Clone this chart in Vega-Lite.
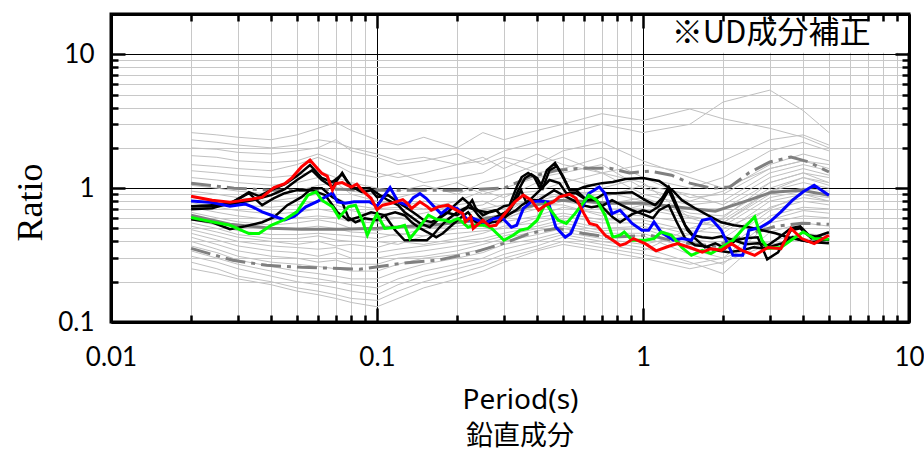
{
  "$schema": "https://vega.github.io/schema/vega-lite/v6.json",
  "width": 798,
  "height": 308,
  "autosize": "none",
  "padding": {"left": 111, "top": 14, "right": 15, "bottom": 134},
  "background": "white",
  "config": {
    "view": {"stroke": "black", "strokeWidth": 3},
    "axis": {
      "labelFont": "Lato", "labelFontSize": 26, "labelColor": "black",
      "domainColor": "black", "domainWidth": 3,
      "tickColor": "black", "tickWidth": 2.5, "gridWidth": 1,
      "labelFlush": false, "labelOverlap": false, "labelBound": false,
      "titleFontWeight": "normal", "titleColor": "black"
    }
  },
  "title": {"text": "鉛直成分", "orient": "bottom", "anchor": "middle", "font": "Noto Sans CJK JP", "fontSize": 27, "fontWeight": "normal", "color": "black", "offset": 10, "dx": 10},
  "data": {"values": [
    {"s":"a1","p":0.02,"r":2.6},{"s":"a1","p":0.025,"r":2.5},{"s":"a1","p":0.03,"r":2.4},{"s":"a1","p":0.04,"r":2.3},{"s":"a1","p":0.05,"r":2.5},{"s":"a1","p":0.06,"r":2.8},{"s":"a1","p":0.07,"r":3.1},{"s":"a1","p":0.08,"r":2.7},{"s":"a1","p":0.1,"r":2.3},{"s":"a1","p":0.12,"r":2.1},{"s":"a1","p":0.15,"r":2.4},{"s":"a1","p":0.2,"r":2.0},{"s":"a1","p":0.25,"r":2.6},{"s":"a1","p":0.3,"r":2.3},{"s":"a1","p":0.4,"r":2.7},{"s":"a1","p":0.5,"r":3.0},{"s":"a1","p":0.7,"r":3.6},{"s":"a1","p":1,"r":3.2},{"s":"a1","p":1.5,"r":3.9},{"s":"a1","p":2,"r":3.3},{"s":"a1","p":3,"r":2.8},{"s":"a1","p":4,"r":2.4},{"s":"a1","p":5,"r":2.0},
    {"s":"a2","p":0.02,"r":2.3},{"s":"a2","p":0.025,"r":2.2},{"s":"a2","p":0.03,"r":2.1},{"s":"a2","p":0.04,"r":2.0},{"s":"a2","p":0.05,"r":2.1},{"s":"a2","p":0.06,"r":2.3},{"s":"a2","p":0.07,"r":2.2},{"s":"a2","p":0.08,"r":2.0},{"s":"a2","p":0.1,"r":1.8},{"s":"a2","p":0.12,"r":1.6},{"s":"a2","p":0.15,"r":1.7},{"s":"a2","p":0.2,"r":1.5},{"s":"a2","p":0.25,"r":1.6},{"s":"a2","p":0.3,"r":1.9},{"s":"a2","p":0.4,"r":2.2},{"s":"a2","p":0.5,"r":2.5},{"s":"a2","p":0.7,"r":3.0},{"s":"a2","p":1,"r":2.6},{"s":"a2","p":1.5,"r":3.0},{"s":"a2","p":2,"r":4.4},{"s":"a2","p":3,"r":5.4},{"s":"a2","p":4,"r":3.8},{"s":"a2","p":5,"r":2.6},
    {"s":"a3","p":0.02,"r":2.0},{"s":"a3","p":0.025,"r":1.95},{"s":"a3","p":0.03,"r":1.85},{"s":"a3","p":0.04,"r":1.8},{"s":"a3","p":0.05,"r":1.9},{"s":"a3","p":0.06,"r":2.0},{"s":"a3","p":0.07,"r":2.3},{"s":"a3","p":0.08,"r":1.9},{"s":"a3","p":0.1,"r":1.7},{"s":"a3","p":0.12,"r":1.5},{"s":"a3","p":0.15,"r":1.6},{"s":"a3","p":0.2,"r":1.8},{"s":"a3","p":0.25,"r":1.5},{"s":"a3","p":0.3,"r":1.7},{"s":"a3","p":0.4,"r":1.5},{"s":"a3","p":0.5,"r":1.9},{"s":"a3","p":0.7,"r":2.2},{"s":"a3","p":1,"r":1.6},{"s":"a3","p":1.5,"r":1.2},{"s":"a3","p":2,"r":1.0},{"s":"a3","p":3,"r":1.4},{"s":"a3","p":4,"r":1.6},{"s":"a3","p":5,"r":1.5},
    {"s":"a4","p":0.02,"r":1.75},{"s":"a4","p":0.025,"r":1.7},{"s":"a4","p":0.03,"r":1.6},{"s":"a4","p":0.04,"r":1.55},{"s":"a4","p":0.05,"r":1.6},{"s":"a4","p":0.06,"r":1.8},{"s":"a4","p":0.07,"r":1.6},{"s":"a4","p":0.08,"r":1.45},{"s":"a4","p":0.1,"r":1.3},{"s":"a4","p":0.12,"r":1.2},{"s":"a4","p":0.15,"r":1.3},{"s":"a4","p":0.2,"r":1.5},{"s":"a4","p":0.25,"r":1.7},{"s":"a4","p":0.3,"r":1.4},{"s":"a4","p":0.4,"r":1.8},{"s":"a4","p":0.5,"r":1.5},{"s":"a4","p":0.7,"r":1.3},{"s":"a4","p":1,"r":1.5},{"s":"a4","p":1.5,"r":1.3},{"s":"a4","p":2,"r":1.6},{"s":"a4","p":3,"r":2.3},{"s":"a4","p":4,"r":2.5},{"s":"a4","p":5,"r":2.1},
    {"s":"a5","p":0.02,"r":1.5},{"s":"a5","p":0.025,"r":1.45},{"s":"a5","p":0.03,"r":1.4},{"s":"a5","p":0.04,"r":1.35},{"s":"a5","p":0.05,"r":1.5},{"s":"a5","p":0.06,"r":1.7},{"s":"a5","p":0.07,"r":1.5},{"s":"a5","p":0.08,"r":1.3},{"s":"a5","p":0.1,"r":1.2},{"s":"a5","p":0.12,"r":1.3},{"s":"a5","p":0.15,"r":1.1},{"s":"a5","p":0.2,"r":1.2},{"s":"a5","p":0.25,"r":1.3},{"s":"a5","p":0.3,"r":1.6},{"s":"a5","p":0.4,"r":1.3},{"s":"a5","p":0.5,"r":1.4},{"s":"a5","p":0.7,"r":1.7},{"s":"a5","p":1,"r":1.2},{"s":"a5","p":1.5,"r":1.0},{"s":"a5","p":2,"r":1.2},{"s":"a5","p":3,"r":1.9},{"s":"a5","p":4,"r":2.2},{"s":"a5","p":5,"r":1.9},
    {"s":"a6","p":0.02,"r":1.35},{"s":"a6","p":0.025,"r":1.3},{"s":"a6","p":0.03,"r":1.25},{"s":"a6","p":0.04,"r":1.2},{"s":"a6","p":0.05,"r":1.25},{"s":"a6","p":0.06,"r":1.35},{"s":"a6","p":0.07,"r":1.2},{"s":"a6","p":0.08,"r":1.1},{"s":"a6","p":0.1,"r":1.0},{"s":"a6","p":0.12,"r":0.95},{"s":"a6","p":0.15,"r":1.05},{"s":"a6","p":0.2,"r":0.9},{"s":"a6","p":0.25,"r":1.1},{"s":"a6","p":0.3,"r":1.2},{"s":"a6","p":0.4,"r":1.5},{"s":"a6","p":0.5,"r":1.7},{"s":"a6","p":0.7,"r":1.3},{"s":"a6","p":1,"r":1.1},{"s":"a6","p":1.5,"r":0.6},{"s":"a6","p":2,"r":0.5},{"s":"a6","p":3,"r":0.7},{"s":"a6","p":4,"r":0.9},{"s":"a6","p":5,"r":0.8},
    {"s":"a7","p":0.02,"r":1.2},{"s":"a7","p":0.025,"r":1.15},{"s":"a7","p":0.03,"r":1.1},{"s":"a7","p":0.04,"r":1.05},{"s":"a7","p":0.05,"r":1.1},{"s":"a7","p":0.06,"r":1.2},{"s":"a7","p":0.07,"r":1.0},{"s":"a7","p":0.08,"r":0.95},{"s":"a7","p":0.1,"r":0.9},{"s":"a7","p":0.12,"r":0.85},{"s":"a7","p":0.15,"r":0.95},{"s":"a7","p":0.2,"r":1.1},{"s":"a7","p":0.25,"r":0.9},{"s":"a7","p":0.3,"r":1.0},{"s":"a7","p":0.4,"r":1.2},{"s":"a7","p":0.5,"r":1.3},{"s":"a7","p":0.7,"r":1.5},{"s":"a7","p":1,"r":1.0},{"s":"a7","p":1.5,"r":0.8},{"s":"a7","p":2,"r":0.95},{"s":"a7","p":3,"r":1.5},{"s":"a7","p":4,"r":1.8},{"s":"a7","p":5,"r":1.6},
    {"s":"a8","p":0.02,"r":1.05},{"s":"a8","p":0.025,"r":1.0},{"s":"a8","p":0.03,"r":0.95},{"s":"a8","p":0.04,"r":0.9},{"s":"a8","p":0.05,"r":0.95},{"s":"a8","p":0.06,"r":1.05},{"s":"a8","p":0.07,"r":1.1},{"s":"a8","p":0.08,"r":0.9},{"s":"a8","p":0.1,"r":0.8},{"s":"a8","p":0.12,"r":0.75},{"s":"a8","p":0.15,"r":0.7},{"s":"a8","p":0.2,"r":0.8},{"s":"a8","p":0.25,"r":0.95},{"s":"a8","p":0.3,"r":0.85},{"s":"a8","p":0.4,"r":1.1},{"s":"a8","p":0.5,"r":1.2},{"s":"a8","p":0.7,"r":1.0},{"s":"a8","p":1,"r":1.2},{"s":"a8","p":1.5,"r":0.85},{"s":"a8","p":2,"r":0.9},{"s":"a8","p":3,"r":1.4},{"s":"a8","p":4,"r":1.6},{"s":"a8","p":5,"r":1.4},
    {"s":"a9","p":0.02,"r":0.95},{"s":"a9","p":0.025,"r":0.9},{"s":"a9","p":0.03,"r":0.85},{"s":"a9","p":0.04,"r":0.8},{"s":"a9","p":0.05,"r":0.85},{"s":"a9","p":0.06,"r":0.9},{"s":"a9","p":0.07,"r":0.85},{"s":"a9","p":0.08,"r":0.75},{"s":"a9","p":0.1,"r":0.7},{"s":"a9","p":0.12,"r":0.72},{"s":"a9","p":0.15,"r":0.8},{"s":"a9","p":0.2,"r":0.7},{"s":"a9","p":0.25,"r":0.75},{"s":"a9","p":0.3,"r":0.9},{"s":"a9","p":0.4,"r":0.95},{"s":"a9","p":0.5,"r":1.1},{"s":"a9","p":0.7,"r":1.3},{"s":"a9","p":1,"r":0.9},{"s":"a9","p":1.5,"r":0.75},{"s":"a9","p":2,"r":0.8},{"s":"a9","p":3,"r":1.3},{"s":"a9","p":4,"r":1.5},{"s":"a9","p":5,"r":1.35},
    {"s":"a10","p":0.02,"r":0.85},{"s":"a10","p":0.025,"r":0.8},{"s":"a10","p":0.03,"r":0.75},{"s":"a10","p":0.04,"r":0.72},{"s":"a10","p":0.05,"r":0.75},{"s":"a10","p":0.06,"r":0.8},{"s":"a10","p":0.07,"r":0.75},{"s":"a10","p":0.08,"r":0.68},{"s":"a10","p":0.1,"r":0.62},{"s":"a10","p":0.12,"r":0.6},{"s":"a10","p":0.15,"r":0.65},{"s":"a10","p":0.2,"r":0.75},{"s":"a10","p":0.25,"r":0.8},{"s":"a10","p":0.3,"r":0.7},{"s":"a10","p":0.4,"r":0.85},{"s":"a10","p":0.5,"r":1.0},{"s":"a10","p":0.7,"r":0.85},{"s":"a10","p":1,"r":1.05},{"s":"a10","p":1.5,"r":0.9},{"s":"a10","p":2,"r":0.75},{"s":"a10","p":3,"r":1.2},{"s":"a10","p":4,"r":1.4},{"s":"a10","p":5,"r":1.25},
    {"s":"a11","p":0.02,"r":0.78},{"s":"a11","p":0.025,"r":0.72},{"s":"a11","p":0.03,"r":0.68},{"s":"a11","p":0.04,"r":0.64},{"s":"a11","p":0.05,"r":0.66},{"s":"a11","p":0.06,"r":0.7},{"s":"a11","p":0.07,"r":0.66},{"s":"a11","p":0.08,"r":0.6},{"s":"a11","p":0.1,"r":0.56},{"s":"a11","p":0.12,"r":0.6},{"s":"a11","p":0.15,"r":0.55},{"s":"a11","p":0.2,"r":0.62},{"s":"a11","p":0.25,"r":0.7},{"s":"a11","p":0.3,"r":0.75},{"s":"a11","p":0.4,"r":0.8},{"s":"a11","p":0.5,"r":0.9},{"s":"a11","p":0.7,"r":0.95},{"s":"a11","p":1,"r":0.8},{"s":"a11","p":1.5,"r":0.7},{"s":"a11","p":2,"r":0.7},{"s":"a11","p":3,"r":1.1},{"s":"a11","p":4,"r":1.3},{"s":"a11","p":5,"r":1.2},
    {"s":"a12","p":0.02,"r":0.72},{"s":"a12","p":0.025,"r":0.66},{"s":"a12","p":0.03,"r":0.62},{"s":"a12","p":0.04,"r":0.58},{"s":"a12","p":0.05,"r":0.6},{"s":"a12","p":0.06,"r":0.62},{"s":"a12","p":0.07,"r":0.6},{"s":"a12","p":0.08,"r":0.56},{"s":"a12","p":0.1,"r":0.55},{"s":"a12","p":0.12,"r":0.5},{"s":"a12","p":0.15,"r":0.56},{"s":"a12","p":0.2,"r":0.6},{"s":"a12","p":0.25,"r":0.58},{"s":"a12","p":0.3,"r":0.65},{"s":"a12","p":0.4,"r":0.9},{"s":"a12","p":0.5,"r":0.85},{"s":"a12","p":0.7,"r":0.75},{"s":"a12","p":1,"r":0.85},{"s":"a12","p":1.5,"r":0.65},{"s":"a12","p":2,"r":0.62},{"s":"a12","p":3,"r":1.0},{"s":"a12","p":4,"r":1.2},{"s":"a12","p":5,"r":1.1},
    {"s":"a13","p":0.02,"r":0.66},{"s":"a13","p":0.025,"r":0.6},{"s":"a13","p":0.03,"r":0.56},{"s":"a13","p":0.04,"r":0.53},{"s":"a13","p":0.05,"r":0.55},{"s":"a13","p":0.06,"r":0.58},{"s":"a13","p":0.07,"r":0.55},{"s":"a13","p":0.08,"r":0.5},{"s":"a13","p":0.1,"r":0.48},{"s":"a13","p":0.12,"r":0.52},{"s":"a13","p":0.15,"r":0.5},{"s":"a13","p":0.2,"r":0.55},{"s":"a13","p":0.25,"r":0.62},{"s":"a13","p":0.3,"r":0.6},{"s":"a13","p":0.4,"r":0.7},{"s":"a13","p":0.5,"r":0.8},{"s":"a13","p":0.7,"r":0.7},{"s":"a13","p":1,"r":0.7},{"s":"a13","p":1.5,"r":0.6},{"s":"a13","p":2,"r":0.58},{"s":"a13","p":3,"r":0.95},{"s":"a13","p":4,"r":1.1},{"s":"a13","p":5,"r":1.0},
    {"s":"a14","p":0.02,"r":0.62},{"s":"a14","p":0.025,"r":0.56},{"s":"a14","p":0.03,"r":0.52},{"s":"a14","p":0.04,"r":0.49},{"s":"a14","p":0.05,"r":0.5},{"s":"a14","p":0.06,"r":0.52},{"s":"a14","p":0.07,"r":0.5},{"s":"a14","p":0.08,"r":0.47},{"s":"a14","p":0.1,"r":0.46},{"s":"a14","p":0.12,"r":0.44},{"s":"a14","p":0.15,"r":0.5},{"s":"a14","p":0.2,"r":0.52},{"s":"a14","p":0.25,"r":0.55},{"s":"a14","p":0.3,"r":0.58},{"s":"a14","p":0.4,"r":0.75},{"s":"a14","p":0.5,"r":0.75},{"s":"a14","p":0.7,"r":0.62},{"s":"a14","p":1,"r":0.75},{"s":"a14","p":1.5,"r":0.62},{"s":"a14","p":2,"r":0.55},{"s":"a14","p":3,"r":0.9},{"s":"a14","p":4,"r":1.0},{"s":"a14","p":5,"r":0.95},
    {"s":"a15","p":0.02,"r":0.58},{"s":"a15","p":0.025,"r":0.53},{"s":"a15","p":0.03,"r":0.48},{"s":"a15","p":0.04,"r":0.45},{"s":"a15","p":0.05,"r":0.45},{"s":"a15","p":0.06,"r":0.46},{"s":"a15","p":0.07,"r":0.45},{"s":"a15","p":0.08,"r":0.44},{"s":"a15","p":0.1,"r":0.42},{"s":"a15","p":0.12,"r":0.46},{"s":"a15","p":0.15,"r":0.44},{"s":"a15","p":0.2,"r":0.5},{"s":"a15","p":0.25,"r":0.5},{"s":"a15","p":0.3,"r":0.56},{"s":"a15","p":0.4,"r":0.62},{"s":"a15","p":0.5,"r":0.72},{"s":"a15","p":0.7,"r":0.65},{"s":"a15","p":1,"r":0.62},{"s":"a15","p":1.5,"r":0.55},{"s":"a15","p":2,"r":0.52},{"s":"a15","p":3,"r":0.85},{"s":"a15","p":4,"r":0.95},{"s":"a15","p":5,"r":0.9},
    {"s":"a16","p":0.02,"r":0.55},{"s":"a16","p":0.025,"r":0.5},{"s":"a16","p":0.03,"r":0.45},{"s":"a16","p":0.04,"r":0.42},{"s":"a16","p":0.05,"r":0.42},{"s":"a16","p":0.06,"r":0.44},{"s":"a16","p":0.07,"r":0.41},{"s":"a16","p":0.08,"r":0.4},{"s":"a16","p":0.1,"r":0.4},{"s":"a16","p":0.12,"r":0.38},{"s":"a16","p":0.15,"r":0.44},{"s":"a16","p":0.2,"r":0.46},{"s":"a16","p":0.25,"r":0.48},{"s":"a16","p":0.3,"r":0.5},{"s":"a16","p":0.4,"r":0.6},{"s":"a16","p":0.5,"r":0.65},{"s":"a16","p":0.7,"r":0.58},{"s":"a16","p":1,"r":0.58},{"s":"a16","p":1.5,"r":0.48},{"s":"a16","p":2,"r":0.46},{"s":"a16","p":3,"r":0.8},{"s":"a16","p":4,"r":0.9},{"s":"a16","p":5,"r":0.85},
    {"s":"a17","p":0.02,"r":0.52},{"s":"a17","p":0.025,"r":0.47},{"s":"a17","p":0.03,"r":0.43},{"s":"a17","p":0.04,"r":0.4},{"s":"a17","p":0.05,"r":0.38},{"s":"a17","p":0.06,"r":0.4},{"s":"a17","p":0.07,"r":0.37},{"s":"a17","p":0.08,"r":0.38},{"s":"a17","p":0.1,"r":0.36},{"s":"a17","p":0.12,"r":0.4},{"s":"a17","p":0.15,"r":0.38},{"s":"a17","p":0.2,"r":0.42},{"s":"a17","p":0.25,"r":0.46},{"s":"a17","p":0.3,"r":0.52},{"s":"a17","p":0.4,"r":0.55},{"s":"a17","p":0.5,"r":0.62},{"s":"a17","p":0.7,"r":0.55},{"s":"a17","p":1,"r":0.55},{"s":"a17","p":1.5,"r":0.45},{"s":"a17","p":2,"r":0.42},{"s":"a17","p":3,"r":0.72},{"s":"a17","p":4,"r":0.85},{"s":"a17","p":5,"r":0.8},
    {"s":"a18","p":0.02,"r":0.49},{"s":"a18","p":0.025,"r":0.44},{"s":"a18","p":0.03,"r":0.4},{"s":"a18","p":0.04,"r":0.37},{"s":"a18","p":0.05,"r":0.36},{"s":"a18","p":0.06,"r":0.35},{"s":"a18","p":0.07,"r":0.36},{"s":"a18","p":0.08,"r":0.33},{"s":"a18","p":0.1,"r":0.33},{"s":"a18","p":0.12,"r":0.35},{"s":"a18","p":0.15,"r":0.37},{"s":"a18","p":0.2,"r":0.4},{"s":"a18","p":0.25,"r":0.42},{"s":"a18","p":0.3,"r":0.46},{"s":"a18","p":0.4,"r":0.52},{"s":"a18","p":0.5,"r":0.58},{"s":"a18","p":0.7,"r":0.5},{"s":"a18","p":1,"r":0.52},{"s":"a18","p":1.5,"r":0.42},{"s":"a18","p":2,"r":0.38},{"s":"a18","p":3,"r":0.68},{"s":"a18","p":4,"r":0.8},{"s":"a18","p":5,"r":0.75},
    {"s":"a19","p":0.02,"r":0.46},{"s":"a19","p":0.025,"r":0.41},{"s":"a19","p":0.03,"r":0.37},{"s":"a19","p":0.04,"r":0.34},{"s":"a19","p":0.05,"r":0.33},{"s":"a19","p":0.06,"r":0.31},{"s":"a19","p":0.07,"r":0.33},{"s":"a19","p":0.08,"r":0.3},{"s":"a19","p":0.1,"r":0.3},{"s":"a19","p":0.12,"r":0.32},{"s":"a19","p":0.15,"r":0.34},{"s":"a19","p":0.2,"r":0.37},{"s":"a19","p":0.25,"r":0.4},{"s":"a19","p":0.3,"r":0.44},{"s":"a19","p":0.4,"r":0.5},{"s":"a19","p":0.5,"r":0.55},{"s":"a19","p":0.7,"r":0.48},{"s":"a19","p":1,"r":0.5},{"s":"a19","p":1.5,"r":0.38},{"s":"a19","p":2,"r":0.34},{"s":"a19","p":3,"r":0.62},{"s":"a19","p":4,"r":0.72},{"s":"a19","p":5,"r":0.7},
    {"s":"a20","p":0.02,"r":0.43},{"s":"a20","p":0.025,"r":0.38},{"s":"a20","p":0.03,"r":0.34},{"s":"a20","p":0.04,"r":0.31},{"s":"a20","p":0.05,"r":0.3},{"s":"a20","p":0.06,"r":0.28},{"s":"a20","p":0.07,"r":0.29},{"s":"a20","p":0.08,"r":0.27},{"s":"a20","p":0.1,"r":0.27},{"s":"a20","p":0.12,"r":0.3},{"s":"a20","p":0.15,"r":0.31},{"s":"a20","p":0.2,"r":0.34},{"s":"a20","p":0.25,"r":0.38},{"s":"a20","p":0.3,"r":0.42},{"s":"a20","p":0.4,"r":0.48},{"s":"a20","p":0.5,"r":0.52},{"s":"a20","p":0.7,"r":0.46},{"s":"a20","p":1,"r":0.46},{"s":"a20","p":1.5,"r":0.35},{"s":"a20","p":2,"r":0.3},{"s":"a20","p":3,"r":0.58},{"s":"a20","p":4,"r":0.68},{"s":"a20","p":5,"r":0.65},
    {"s":"a21","p":0.02,"r":0.4},{"s":"a21","p":0.025,"r":0.35},{"s":"a21","p":0.03,"r":0.31},{"s":"a21","p":0.04,"r":0.28},{"s":"a21","p":0.05,"r":0.27},{"s":"a21","p":0.06,"r":0.26},{"s":"a21","p":0.07,"r":0.25},{"s":"a21","p":0.08,"r":0.24},{"s":"a21","p":0.1,"r":0.24},{"s":"a21","p":0.12,"r":0.27},{"s":"a21","p":0.15,"r":0.3},{"s":"a21","p":0.2,"r":0.32},{"s":"a21","p":0.25,"r":0.35},{"s":"a21","p":0.3,"r":0.4},{"s":"a21","p":0.4,"r":0.45},{"s":"a21","p":0.5,"r":0.5},{"s":"a21","p":0.7,"r":0.44},{"s":"a21","p":1,"r":0.44},{"s":"a21","p":1.5,"r":0.32},{"s":"a21","p":2,"r":0.27},{"s":"a21","p":3,"r":0.55},{"s":"a21","p":4,"r":0.62},{"s":"a21","p":5,"r":0.6},
    {"s":"a22","p":0.02,"r":0.37},{"s":"a22","p":0.025,"r":0.33},{"s":"a22","p":0.03,"r":0.29},{"s":"a22","p":0.04,"r":0.26},{"s":"a22","p":0.05,"r":0.24},{"s":"a22","p":0.06,"r":0.23},{"s":"a22","p":0.07,"r":0.22},{"s":"a22","p":0.08,"r":0.21},{"s":"a22","p":0.1,"r":0.21},{"s":"a22","p":0.12,"r":0.24},{"s":"a22","p":0.15,"r":0.27},{"s":"a22","p":0.2,"r":0.3},{"s":"a22","p":0.25,"r":0.33},{"s":"a22","p":0.3,"r":0.38},{"s":"a22","p":0.4,"r":0.42},{"s":"a22","p":0.5,"r":0.47},{"s":"a22","p":0.7,"r":0.42},{"s":"a22","p":1,"r":0.38},{"s":"a22","p":1.5,"r":0.45},{"s":"a22","p":2,"r":0.55},{"s":"a22","p":3,"r":0.95},{"s":"a22","p":4,"r":1.2},{"s":"a22","p":5,"r":1.05},
    {"s":"a23","p":0.02,"r":0.34},{"s":"a23","p":0.025,"r":0.3},{"s":"a23","p":0.03,"r":0.27},{"s":"a23","p":0.04,"r":0.24},{"s":"a23","p":0.05,"r":0.22},{"s":"a23","p":0.06,"r":0.21},{"s":"a23","p":0.07,"r":0.2},{"s":"a23","p":0.08,"r":0.19},{"s":"a23","p":0.1,"r":0.18},{"s":"a23","p":0.12,"r":0.21},{"s":"a23","p":0.15,"r":0.24},{"s":"a23","p":0.2,"r":0.27},{"s":"a23","p":0.25,"r":0.3},{"s":"a23","p":0.3,"r":0.35},{"s":"a23","p":0.4,"r":0.4},{"s":"a23","p":0.5,"r":0.45},{"s":"a23","p":0.7,"r":0.4},{"s":"a23","p":1,"r":0.36},{"s":"a23","p":1.5,"r":0.28},{"s":"a23","p":2,"r":0.23},{"s":"a23","p":3,"r":0.47},{"s":"a23","p":4,"r":0.55},{"s":"a23","p":5,"r":0.52},
    {"s":"a24","p":0.02,"r":0.31},{"s":"a24","p":0.025,"r":0.28},{"s":"a24","p":0.03,"r":0.25},{"s":"a24","p":0.04,"r":0.22},{"s":"a24","p":0.05,"r":0.2},{"s":"a24","p":0.06,"r":0.19},{"s":"a24","p":0.07,"r":0.18},{"s":"a24","p":0.08,"r":0.17},{"s":"a24","p":0.1,"r":0.16},{"s":"a24","p":0.12,"r":0.19},{"s":"a24","p":0.15,"r":0.22},{"s":"a24","p":0.2,"r":0.25},{"s":"a24","p":0.25,"r":0.28},{"s":"a24","p":0.3,"r":0.32},{"s":"a24","p":0.4,"r":0.37},{"s":"a24","p":0.5,"r":0.43},{"s":"a24","p":0.7,"r":0.38},{"s":"a24","p":1,"r":0.34},{"s":"a24","p":1.5,"r":0.5},{"s":"a24","p":2,"r":0.6},{"s":"a24","p":3,"r":1.1},{"s":"a24","p":4,"r":1.3},{"s":"a24","p":5,"r":1.1},
    {"s":"a25","p":0.02,"r":0.28},{"s":"a25","p":0.025,"r":0.25},{"s":"a25","p":0.03,"r":0.22},{"s":"a25","p":0.04,"r":0.2},{"s":"a25","p":0.05,"r":0.18},{"s":"a25","p":0.06,"r":0.17},{"s":"a25","p":0.07,"r":0.16},{"s":"a25","p":0.08,"r":0.15},{"s":"a25","p":0.1,"r":0.145},{"s":"a25","p":0.12,"r":0.17},{"s":"a25","p":0.15,"r":0.2},{"s":"a25","p":0.2,"r":0.23},{"s":"a25","p":0.25,"r":0.26},{"s":"a25","p":0.3,"r":0.3},{"s":"a25","p":0.4,"r":0.35},{"s":"a25","p":0.5,"r":0.4},{"s":"a25","p":0.7,"r":0.36},{"s":"a25","p":1,"r":0.32},{"s":"a25","p":1.5,"r":0.27},{"s":"a25","p":2,"r":0.3},{"s":"a25","p":3,"r":0.4},{"s":"a25","p":4,"r":0.46},{"s":"a25","p":5,"r":0.44},
    {"s":"a26","p":0.02,"r":0.25},{"s":"a26","p":0.025,"r":0.23},{"s":"a26","p":0.03,"r":0.21},{"s":"a26","p":0.04,"r":0.19},{"s":"a26","p":0.05,"r":0.17},{"s":"a26","p":0.06,"r":0.16},{"s":"a26","p":0.07,"r":0.15},{"s":"a26","p":0.08,"r":0.14},{"s":"a26","p":0.1,"r":0.13},{"s":"a26","p":0.12,"r":0.15},{"s":"a26","p":0.15,"r":0.18},{"s":"a26","p":0.2,"r":0.21},{"s":"a26","p":0.25,"r":0.24},{"s":"a26","p":0.3,"r":0.28},{"s":"a26","p":0.4,"r":0.34},{"s":"a26","p":0.5,"r":0.38},{"s":"a26","p":0.7,"r":0.34},{"s":"a26","p":1,"r":0.3},{"s":"a26","p":1.5,"r":0.25},{"s":"a26","p":2,"r":0.28},{"s":"a26","p":3,"r":0.38},{"s":"a26","p":4,"r":0.42},{"s":"a26","p":5,"r":0.4},
    {"s":"mean","p":0.02,"r":0.628},{"s":"mean","p":0.028,"r":0.537},{"s":"mean","p":0.04,"r":0.502},{"s":"mean","p":0.052,"r":0.493},{"s":"mean","p":0.073,"r":0.493},{"s":"mean","p":0.1,"r":0.502},{"s":"mean","p":0.133,"r":0.519},{"s":"mean","p":0.172,"r":0.537},{"s":"mean","p":0.225,"r":0.566},{"s":"mean","p":0.3,"r":0.628},{"s":"mean","p":0.375,"r":0.733},{"s":"mean","p":0.475,"r":0.813},{"s":"mean","p":0.59,"r":0.799},{"s":"mean","p":0.75,"r":0.772},{"s":"mean","p":1.0,"r":0.772},{"s":"mean","p":1.37,"r":0.721},{"s":"mean","p":1.87,"r":0.673},{"s":"mean","p":2.5,"r":0.813},{"s":"mean","p":3.05,"r":0.933},{"s":"mean","p":3.95,"r":0.966},{"s":"mean","p":5.0,"r":0.886},
    {"s":"up","p":0.02,"r":1.09},{"s":"up","p":0.029,"r":1.0},{"s":"up","p":0.04,"r":0.966},{"s":"up","p":0.052,"r":0.966},{"s":"up","p":0.073,"r":0.983},{"s":"up","p":0.094,"r":0.966},{"s":"up","p":0.137,"r":0.966},{"s":"up","p":0.2,"r":0.966},{"s":"up","p":0.3,"r":1.0},{"s":"up","p":0.375,"r":1.21},{"s":"up","p":0.475,"r":1.36},{"s":"up","p":0.59,"r":1.41},{"s":"up","p":0.75,"r":1.41},{"s":"up","p":0.89,"r":1.3},{"s":"up","p":1.06,"r":1.34},{"s":"up","p":1.28,"r":1.25},{"s":"up","p":1.5,"r":1.09},{"s":"up","p":1.8,"r":1.0},{"s":"up","p":2.12,"r":1.02},{"s":"up","p":2.5,"r":1.3},{"s":"up","p":3.0,"r":1.57},{"s":"up","p":3.6,"r":1.71},{"s":"up","p":4.2,"r":1.57},{"s":"up","p":5.0,"r":1.32},
    {"s":"lo","p":0.02,"r":0.355},{"s":"lo","p":0.0287,"r":0.289},{"s":"lo","p":0.0385,"r":0.265},{"s":"lo","p":0.052,"r":0.256},{"s":"lo","p":0.0685,"r":0.252},{"s":"lo","p":0.086,"r":0.248},{"s":"lo","p":0.125,"r":0.275},{"s":"lo","p":0.168,"r":0.289},{"s":"lo","p":0.225,"r":0.326},{"s":"lo","p":0.3,"r":0.387},{"s":"lo","p":0.375,"r":0.46},{"s":"lo","p":0.475,"r":0.502},{"s":"lo","p":0.59,"r":0.46},{"s":"lo","p":0.75,"r":0.43},{"s":"lo","p":1.06,"r":0.445},{"s":"lo","p":1.37,"r":0.394},{"s":"lo","p":1.87,"r":0.368},{"s":"lo","p":2.5,"r":0.452},{"s":"lo","p":3.15,"r":0.519},{"s":"lo","p":3.95,"r":0.547},{"s":"lo","p":5.0,"r":0.537},
    {"s":"k1","p":0.02,"r":0.733},{"s":"k1","p":0.024,"r":0.733},{"s":"k1","p":0.028,"r":0.759},{"s":"k1","p":0.033,"r":0.933},{"s":"k1","p":0.036,"r":0.871},{"s":"k1","p":0.04,"r":0.966},{"s":"k1","p":0.045,"r":1.07},{"s":"k1","p":0.05,"r":1.23},{"s":"k1","p":0.056,"r":1.49},{"s":"k1","p":0.062,"r":1.19},{"s":"k1","p":0.068,"r":1.11},{"s":"k1","p":0.074,"r":1.27},{"s":"k1","p":0.08,"r":1.03},{"s":"k1","p":0.088,"r":0.933},{"s":"k1","p":0.095,"r":0.966},{"s":"k1","p":0.1,"r":0.856},{"s":"k1","p":0.11,"r":0.886},{"s":"k1","p":0.12,"r":0.785},{"s":"k1","p":0.13,"r":0.708},{"s":"k1","p":0.14,"r":0.639},{"s":"k1","p":0.15,"r":0.576},{"s":"k1","p":0.16,"r":0.556},{"s":"k1","p":0.17,"r":0.596},{"s":"k1","p":0.18,"r":0.661},{"s":"k1","p":0.2,"r":0.628},{"s":"k1","p":0.22,"r":0.721},{"s":"k1","p":0.235,"r":0.684},{"s":"k1","p":0.26,"r":0.661},{"s":"k1","p":0.28,"r":0.684},{"s":"k1","p":0.3,"r":0.596},{"s":"k1","p":0.32,"r":0.733},{"s":"k1","p":0.34,"r":0.966},{"s":"k1","p":0.36,"r":1.19},{"s":"k1","p":0.38,"r":1.27},{"s":"k1","p":0.4,"r":1.19},{"s":"k1","p":0.42,"r":1.0},{"s":"k1","p":0.445,"r":1.36},{"s":"k1","p":0.475,"r":1.46},{"s":"k1","p":0.5,"r":1.23},{"s":"k1","p":0.53,"r":0.966},{"s":"k1","p":0.56,"r":0.966},{"s":"k1","p":0.6,"r":1.02},{"s":"k1","p":0.64,"r":1.05},{"s":"k1","p":0.7,"r":1.09},{"s":"k1","p":0.77,"r":1.11},{"s":"k1","p":0.86,"r":1.17},{"s":"k1","p":1.0,"r":1.19},{"s":"k1","p":1.15,"r":1.13},{"s":"k1","p":1.29,"r":0.966},{"s":"k1","p":1.4,"r":0.813},{"s":"k1","p":1.57,"r":0.708},{"s":"k1","p":1.75,"r":0.628},{"s":"k1","p":1.97,"r":0.556},{"s":"k1","p":2.2,"r":0.528},{"s":"k1","p":2.5,"r":0.51},{"s":"k1","p":2.8,"r":0.485},{"s":"k1","p":3.15,"r":0.46},{"s":"k1","p":3.5,"r":0.43},{"s":"k1","p":3.95,"r":0.408},{"s":"k1","p":4.4,"r":0.394},{"s":"k1","p":5.0,"r":0.387},
    {"s":"k2","p":0.02,"r":0.586},{"s":"k2","p":0.024,"r":0.556},{"s":"k2","p":0.028,"r":0.493},{"s":"k2","p":0.032,"r":0.519},{"s":"k2","p":0.037,"r":0.556},{"s":"k2","p":0.041,"r":0.606},{"s":"k2","p":0.046,"r":0.746},{"s":"k2","p":0.052,"r":0.856},{"s":"k2","p":0.057,"r":1.0},{"s":"k2","p":0.062,"r":1.0},{"s":"k2","p":0.068,"r":0.856},{"s":"k2","p":0.074,"r":0.785},{"s":"k2","p":0.078,"r":0.606},{"s":"k2","p":0.083,"r":0.556},{"s":"k2","p":0.09,"r":0.596},{"s":"k2","p":0.1,"r":0.576},{"s":"k2","p":0.107,"r":0.628},{"s":"k2","p":0.117,"r":0.485},{"s":"k2","p":0.127,"r":0.408},{"s":"k2","p":0.141,"r":0.408},{"s":"k2","p":0.154,"r":0.408},{"s":"k2","p":0.162,"r":0.445},{"s":"k2","p":0.172,"r":0.51},{"s":"k2","p":0.183,"r":0.576},{"s":"k2","p":0.2,"r":0.661},{"s":"k2","p":0.218,"r":0.721},{"s":"k2","p":0.228,"r":0.813},{"s":"k2","p":0.235,"r":0.708},{"s":"k2","p":0.25,"r":0.628},{"s":"k2","p":0.265,"r":0.661},{"s":"k2","p":0.282,"r":0.684},{"s":"k2","p":0.3,"r":0.733},{"s":"k2","p":0.315,"r":0.746},{"s":"k2","p":0.335,"r":1.02},{"s":"k2","p":0.35,"r":1.21},{"s":"k2","p":0.37,"r":1.3},{"s":"k2","p":0.39,"r":1.21},{"s":"k2","p":0.41,"r":1.0},{"s":"k2","p":0.435,"r":1.36},{"s":"k2","p":0.467,"r":1.54},{"s":"k2","p":0.5,"r":1.21},{"s":"k2","p":0.53,"r":0.966},{"s":"k2","p":0.56,"r":0.966},{"s":"k2","p":0.615,"r":0.813},{"s":"k2","p":0.67,"r":0.813},{"s":"k2","p":0.71,"r":0.708},{"s":"k2","p":0.77,"r":0.606},{"s":"k2","p":0.82,"r":0.556},{"s":"k2","p":0.91,"r":0.639},{"s":"k2","p":1.0,"r":0.684},{"s":"k2","p":1.06,"r":0.661},{"s":"k2","p":1.15,"r":0.733},{"s":"k2","p":1.25,"r":0.966},{"s":"k2","p":1.35,"r":0.684},{"s":"k2","p":1.47,"r":0.485},{"s":"k2","p":1.57,"r":0.422},{"s":"k2","p":1.71,"r":0.361},{"s":"k2","p":1.87,"r":0.387},{"s":"k2","p":2.04,"r":0.355},{"s":"k2","p":2.23,"r":0.408},{"s":"k2","p":2.42,"r":0.422},{"s":"k2","p":2.7,"r":0.43},{"s":"k2","p":2.93,"r":0.294},{"s":"k2","p":3.22,"r":0.332},{"s":"k2","p":3.6,"r":0.485},{"s":"k2","p":3.9,"r":0.502},{"s":"k2","p":4.3,"r":0.422},{"s":"k2","p":5.0,"r":0.468},
    {"s":"k3","p":0.02,"r":0.733},{"s":"k3","p":0.024,"r":0.746},{"s":"k3","p":0.028,"r":0.759},{"s":"k3","p":0.034,"r":0.813},{"s":"k3","p":0.04,"r":0.886},{"s":"k3","p":0.045,"r":0.983},{"s":"k3","p":0.05,"r":1.15},{"s":"k3","p":0.057,"r":1.36},{"s":"k3","p":0.062,"r":1.15},{"s":"k3","p":0.068,"r":1.02},{"s":"k3","p":0.074,"r":1.3},{"s":"k3","p":0.08,"r":1.0},{"s":"k3","p":0.086,"r":1.0},{"s":"k3","p":0.094,"r":1.0},{"s":"k3","p":0.1,"r":0.917},{"s":"k3","p":0.11,"r":0.813},{"s":"k3","p":0.12,"r":0.746},{"s":"k3","p":0.127,"r":0.661},{"s":"k3","p":0.135,"r":0.606},{"s":"k3","p":0.145,"r":0.547},{"s":"k3","p":0.158,"r":0.51},{"s":"k3","p":0.172,"r":0.596},{"s":"k3","p":0.185,"r":0.661},{"s":"k3","p":0.196,"r":0.746},{"s":"k3","p":0.21,"r":0.841},{"s":"k3","p":0.225,"r":0.746},{"s":"k3","p":0.24,"r":0.628},{"s":"k3","p":0.255,"r":0.556},{"s":"k3","p":0.275,"r":0.596},{"s":"k3","p":0.29,"r":0.628},{"s":"k3","p":0.315,"r":0.684},{"s":"k3","p":0.333,"r":0.813},{"s":"k3","p":0.348,"r":0.966},{"s":"k3","p":0.365,"r":0.772},{"s":"k3","p":0.385,"r":0.856},{"s":"k3","p":0.41,"r":0.966},{"s":"k3","p":0.445,"r":1.15},{"s":"k3","p":0.485,"r":1.09},{"s":"k3","p":0.515,"r":0.917},{"s":"k3","p":0.56,"r":0.917},{"s":"k3","p":0.615,"r":0.813},{"s":"k3","p":0.67,"r":0.841},{"s":"k3","p":0.72,"r":0.917},{"s":"k3","p":0.79,"r":0.917},{"s":"k3","p":0.91,"r":0.933},{"s":"k3","p":1.02,"r":0.813},{"s":"k3","p":1.11,"r":0.746},{"s":"k3","p":1.18,"r":0.841},{"s":"k3","p":1.25,"r":1.02},{"s":"k3","p":1.34,"r":0.746},{"s":"k3","p":1.44,"r":0.528},{"s":"k3","p":1.54,"r":0.445},{"s":"k3","p":1.67,"r":0.43},{"s":"k3","p":1.82,"r":0.422},{"s":"k3","p":1.97,"r":0.437},{"s":"k3","p":2.2,"r":0.408},{"s":"k3","p":2.43,"r":0.381},{"s":"k3","p":2.7,"r":0.387},{"s":"k3","p":2.95,"r":0.374},{"s":"k3","p":3.22,"r":0.422},{"s":"k3","p":3.6,"r":0.502},{"s":"k3","p":3.9,"r":0.519},{"s":"k3","p":4.2,"r":0.445},{"s":"k3","p":4.6,"r":0.43},{"s":"k3","p":5.0,"r":0.408},
    {"s":"k4","p":0.02,"r":0.696},{"s":"k4","p":0.024,"r":0.708},{"s":"k4","p":0.0285,"r":0.785},{"s":"k4","p":0.033,"r":0.917},{"s":"k4","p":0.037,"r":0.746},{"s":"k4","p":0.041,"r":0.841},{"s":"k4","p":0.045,"r":0.917},{"s":"k4","p":0.05,"r":0.966},{"s":"k4","p":0.057,"r":0.966},{"s":"k4","p":0.064,"r":0.886},{"s":"k4","p":0.071,"r":0.661},{"s":"k4","p":0.078,"r":0.576},{"s":"k4","p":0.085,"r":0.606},{"s":"k4","p":0.095,"r":0.661},{"s":"k4","p":0.107,"r":0.628},{"s":"k4","p":0.117,"r":0.661},{"s":"k4","p":0.127,"r":0.628},{"s":"k4","p":0.135,"r":0.556},{"s":"k4","p":0.145,"r":0.502},{"s":"k4","p":0.155,"r":0.468},{"s":"k4","p":0.167,"r":0.43},{"s":"k4","p":0.177,"r":0.46},{"s":"k4","p":0.191,"r":0.528},{"s":"k4","p":0.205,"r":0.596},{"s":"k4","p":0.22,"r":0.661},{"s":"k4","p":0.235,"r":0.556},{"s":"k4","p":0.252,"r":0.528},{"s":"k4","p":0.27,"r":0.556},{"s":"k4","p":0.29,"r":0.566},{"s":"k4","p":0.31,"r":0.628},{"s":"k4","p":0.333,"r":0.684},{"s":"k4","p":0.35,"r":0.746},{"s":"k4","p":0.375,"r":0.813},{"s":"k4","p":0.405,"r":0.813},{"s":"k4","p":0.433,"r":0.886},{"s":"k4","p":0.463,"r":0.966},{"s":"k4","p":0.5,"r":0.886},{"s":"k4","p":0.545,"r":0.813},{"s":"k4","p":0.59,"r":0.746},{"s":"k4","p":0.64,"r":0.721},{"s":"k4","p":0.71,"r":0.746},{"s":"k4","p":0.765,"r":0.813},{"s":"k4","p":0.83,"r":0.746},{"s":"k4","p":0.91,"r":0.684},{"s":"k4","p":1.0,"r":0.639},{"s":"k4","p":1.09,"r":0.596},{"s":"k4","p":1.15,"r":0.684},{"s":"k4","p":1.25,"r":0.746},{"s":"k4","p":1.34,"r":0.556},{"s":"k4","p":1.44,"r":0.422},{"s":"k4","p":1.57,"r":0.374},{"s":"k4","p":1.71,"r":0.368},{"s":"k4","p":1.87,"r":0.343},{"s":"k4","p":2.1,"r":0.332},{"s":"k4","p":2.35,"r":0.343},{"s":"k4","p":2.6,"r":0.361},{"s":"k4","p":2.8,"r":0.355},{"s":"k4","p":3.05,"r":0.368},{"s":"k4","p":3.33,"r":0.387},{"s":"k4","p":3.65,"r":0.43},{"s":"k4","p":3.95,"r":0.408},{"s":"k4","p":4.3,"r":0.394},{"s":"k4","p":5.0,"r":0.415},
    {"s":"blue","p":0.02,"r":0.8},{"s":"blue","p":0.024,"r":0.78},{"s":"blue","p":0.028,"r":0.733},{"s":"blue","p":0.032,"r":0.76},{"s":"blue","p":0.034,"r":0.725},{"s":"blue","p":0.037,"r":0.665},{"s":"blue","p":0.041,"r":0.617},{"s":"blue","p":0.045,"r":0.58},{"s":"blue","p":0.049,"r":0.617},{"s":"blue","p":0.054,"r":0.725},{"s":"blue","p":0.06,"r":0.8},{"s":"blue","p":0.068,"r":0.92},{"s":"blue","p":0.071,"r":0.79},{"s":"blue","p":0.076,"r":0.77},{"s":"blue","p":0.082,"r":0.79},{"s":"blue","p":0.094,"r":0.79},{"s":"blue","p":0.1,"r":0.733},{"s":"blue","p":0.112,"r":1.01},{"s":"blue","p":0.12,"r":0.79},{"s":"blue","p":0.13,"r":0.746},{"s":"blue","p":0.137,"r":0.85},{"s":"blue","p":0.145,"r":0.91},{"s":"blue","p":0.153,"r":0.84},{"s":"blue","p":0.162,"r":0.746},{"s":"blue","p":0.174,"r":0.645},{"s":"blue","p":0.188,"r":0.725},{"s":"blue","p":0.2,"r":0.705},{"s":"blue","p":0.22,"r":0.576},{"s":"blue","p":0.23,"r":0.594},{"s":"blue","p":0.255,"r":0.545},{"s":"blue","p":0.275,"r":0.594},{"s":"blue","p":0.295,"r":0.604},{"s":"blue","p":0.32,"r":0.51},{"s":"blue","p":0.335,"r":0.528},{"s":"blue","p":0.355,"r":0.705},{"s":"blue","p":0.38,"r":0.79},{"s":"blue","p":0.41,"r":0.8},{"s":"blue","p":0.44,"r":0.79},{"s":"blue","p":0.47,"r":0.513},{"s":"blue","p":0.51,"r":0.43},{"s":"blue","p":0.535,"r":0.458},{"s":"blue","p":0.58,"r":0.665},{"s":"blue","p":0.625,"r":0.912},{"s":"blue","p":0.685,"r":1.02},{"s":"blue","p":0.72,"r":0.912},{"s":"blue","p":0.765,"r":0.645},{"s":"blue","p":0.82,"r":0.684},{"s":"blue","p":0.91,"r":0.545},{"s":"blue","p":0.99,"r":0.485},{"s":"blue","p":1.05,"r":0.485},{"s":"blue","p":1.1,"r":0.56},{"s":"blue","p":1.17,"r":0.47},{"s":"blue","p":1.3,"r":0.408},{"s":"blue","p":1.4,"r":0.42},{"s":"blue","p":1.52,"r":0.408},{"s":"blue","p":1.67,"r":0.576},{"s":"blue","p":1.8,"r":0.594},{"s":"blue","p":1.97,"r":0.485},{"s":"blue","p":2.18,"r":0.315},{"s":"blue","p":2.37,"r":0.315},{"s":"blue","p":2.5,"r":0.485},{"s":"blue","p":2.77,"r":0.51},{"s":"blue","p":3.0,"r":0.56},{"s":"blue","p":3.3,"r":0.665},{"s":"blue","p":3.65,"r":0.813},{"s":"blue","p":4.0,"r":0.94},{"s":"blue","p":4.4,"r":1.05},{"s":"blue","p":5.0,"r":0.886},
    {"s":"green","p":0.02,"r":0.604},{"s":"green","p":0.024,"r":0.56},{"s":"green","p":0.028,"r":0.528},{"s":"green","p":0.033,"r":0.458},{"s":"green","p":0.036,"r":0.458},{"s":"green","p":0.04,"r":0.528},{"s":"green","p":0.045,"r":0.583},{"s":"green","p":0.05,"r":0.665},{"s":"green","p":0.055,"r":0.886},{"s":"green","p":0.059,"r":0.94},{"s":"green","p":0.062,"r":0.813},{"s":"green","p":0.068,"r":0.725},{"s":"green","p":0.072,"r":0.604},{"s":"green","p":0.078,"r":0.725},{"s":"green","p":0.083,"r":0.746},{"s":"green","p":0.088,"r":0.576},{"s":"green","p":0.092,"r":0.445},{"s":"green","p":0.098,"r":0.594},{"s":"green","p":0.1,"r":0.64},{"s":"green","p":0.107,"r":0.5},{"s":"green","p":0.12,"r":0.51},{"s":"green","p":0.127,"r":0.528},{"s":"green","p":0.133,"r":0.42},{"s":"green","p":0.143,"r":0.5},{"s":"green","p":0.156,"r":0.628},{"s":"green","p":0.168,"r":0.583},{"s":"green","p":0.18,"r":0.576},{"s":"green","p":0.188,"r":0.56},{"s":"green","p":0.202,"r":0.594},{"s":"green","p":0.22,"r":0.51},{"s":"green","p":0.23,"r":0.528},{"s":"green","p":0.255,"r":0.528},{"s":"green","p":0.27,"r":0.5},{"s":"green","p":0.3,"r":0.408},{"s":"green","p":0.325,"r":0.445},{"s":"green","p":0.345,"r":0.485},{"s":"green","p":0.37,"r":0.5},{"s":"green","p":0.4,"r":0.576},{"s":"green","p":0.43,"r":0.77},{"s":"green","p":0.455,"r":0.665},{"s":"green","p":0.48,"r":0.576},{"s":"green","p":0.515,"r":0.545},{"s":"green","p":0.555,"r":0.645},{"s":"green","p":0.6,"r":0.79},{"s":"green","p":0.625,"r":0.886},{"s":"green","p":0.67,"r":0.813},{"s":"green","p":0.72,"r":0.628},{"s":"green","p":0.77,"r":0.43},{"s":"green","p":0.82,"r":0.445},{"s":"green","p":0.85,"r":0.47},{"s":"green","p":0.91,"r":0.408},{"s":"green","p":1.02,"r":0.408},{"s":"green","p":1.1,"r":0.42},{"s":"green","p":1.17,"r":0.47},{"s":"green","p":1.28,"r":0.445},{"s":"green","p":1.4,"r":0.36},{"s":"green","p":1.52,"r":0.315},{"s":"green","p":1.67,"r":0.343},{"s":"green","p":1.8,"r":0.325},{"s":"green","p":1.97,"r":0.36},{"s":"green","p":2.18,"r":0.408},{"s":"green","p":2.35,"r":0.485},{"s":"green","p":2.63,"r":0.61},{"s":"green","p":2.8,"r":0.408},{"s":"green","p":2.95,"r":0.355},{"s":"green","p":3.3,"r":0.36},{"s":"green","p":3.6,"r":0.408},{"s":"green","p":4.0,"r":0.47},{"s":"green","p":4.4,"r":0.42},{"s":"green","p":5.0,"r":0.415},
    {"s":"red","p":0.02,"r":0.871},{"s":"red","p":0.024,"r":0.813},{"s":"red","p":0.028,"r":0.785},{"s":"red","p":0.03,"r":0.8},{"s":"red","p":0.034,"r":0.83},{"s":"red","p":0.037,"r":0.857},{"s":"red","p":0.041,"r":1.01},{"s":"red","p":0.045,"r":1.08},{"s":"red","p":0.048,"r":1.2},{"s":"red","p":0.052,"r":1.44},{"s":"red","p":0.056,"r":1.62},{"s":"red","p":0.059,"r":1.44},{"s":"red","p":0.062,"r":1.29},{"s":"red","p":0.065,"r":1.23},{"s":"red","p":0.068,"r":0.966},{"s":"red","p":0.07,"r":1.08},{"s":"red","p":0.074,"r":1.1},{"s":"red","p":0.08,"r":1.02},{"s":"red","p":0.084,"r":1.07},{"s":"red","p":0.089,"r":0.94},{"s":"red","p":0.095,"r":0.84},{"s":"red","p":0.1,"r":0.69},{"s":"red","p":0.105,"r":0.746},{"s":"red","p":0.113,"r":0.77},{"s":"red","p":0.12,"r":0.8},{"s":"red","p":0.125,"r":0.82},{"s":"red","p":0.13,"r":0.77},{"s":"red","p":0.135,"r":0.705},{"s":"red","p":0.145,"r":0.79},{"s":"red","p":0.155,"r":0.725},{"s":"red","p":0.16,"r":0.684},{"s":"red","p":0.17,"r":0.725},{"s":"red","p":0.185,"r":0.746},{"s":"red","p":0.195,"r":0.7},{"s":"red","p":0.21,"r":0.645},{"s":"red","p":0.215,"r":0.56},{"s":"red","p":0.225,"r":0.61},{"s":"red","p":0.23,"r":0.5},{"s":"red","p":0.25,"r":0.576},{"s":"red","p":0.265,"r":0.519},{"s":"red","p":0.28,"r":0.528},{"s":"red","p":0.29,"r":0.583},{"s":"red","p":0.31,"r":0.684},{"s":"red","p":0.33,"r":0.79},{"s":"red","p":0.355,"r":0.886},{"s":"red","p":0.38,"r":0.813},{"s":"red","p":0.405,"r":0.684},{"s":"red","p":0.43,"r":0.746},{"s":"red","p":0.46,"r":0.79},{"s":"red","p":0.485,"r":0.86},{"s":"red","p":0.53,"r":0.9},{"s":"red","p":0.56,"r":0.84},{"s":"red","p":0.6,"r":0.645},{"s":"red","p":0.63,"r":0.545},{"s":"red","p":0.67,"r":0.528},{"s":"red","p":0.72,"r":0.445},{"s":"red","p":0.77,"r":0.408},{"s":"red","p":0.82,"r":0.374},{"s":"red","p":0.86,"r":0.385},{"s":"red","p":0.92,"r":0.42},{"s":"red","p":1.02,"r":0.385},{"s":"red","p":1.12,"r":0.34},{"s":"red","p":1.25,"r":0.368},{"s":"red","p":1.35,"r":0.385},{"s":"red","p":1.5,"r":0.36},{"s":"red","p":1.67,"r":0.333},{"s":"red","p":1.8,"r":0.353},{"s":"red","p":1.97,"r":0.343},{"s":"red","p":2.15,"r":0.385},{"s":"red","p":2.35,"r":0.343},{"s":"red","p":2.63,"r":0.315},{"s":"red","p":2.95,"r":0.36},{"s":"red","p":3.3,"r":0.353},{"s":"red","p":3.6,"r":0.5},{"s":"red","p":3.95,"r":0.42},{"s":"red","p":4.4,"r":0.385},{"s":"red","p":5.0,"r":0.445}
  ]},
  "resolve": {"axis": {"x": "independent", "y": "independent"}},
  "layer": [
    {
      "transform": [{"filter": "substring(datum.s, 0, 1) == 'a'"}],
      "mark": {"type": "line", "color": "#c0c0c0", "strokeWidth": 1},
      "encoding": {
        "x": {"field": "p", "type": "quantitative", "scale": {"type": "log", "domain": [0.01, 10], "nice": false},
          "axis": {
            "values": [0.01,0.02,0.03,0.04,0.05,0.06,0.07,0.08,0.09,0.1,0.2,0.3,0.4,0.5,0.6,0.7,0.8,0.9,1,2,3,4,5,6,7,8,9,10],
            "labelExpr": "datum.value == 0.01 ? '0.01' : datum.value == 0.1 ? '0.1' : datum.value == 1 ? '1' : datum.value == 10 ? '10' : ''",
            "grid": true,
            "gridColor": {"condition": {"test": "datum.value == 0.1 || datum.value == 1", "value": "black"}, "value": "#c8c8c8"},
            "tickSize": {"condition": {"test": "datum.value == 0.01 || datum.value == 0.1 || datum.value == 1 || datum.value == 10", "value": -14}, "value": -7},
            "labelPadding": 36,
            "title": "Period(s)", "titleFont": "Noto Sans", "titleFontSize": 28, "titleFontWeight": "normal",
            "titleX": 409, "titleY": 78, "titleAlign": "center", "titleBaseline": "middle"
          }},
        "y": {"field": "r", "type": "quantitative", "scale": {"type": "log", "domain": [0.1, 20], "nice": false},
          "axis": {
            "values": [0.1,0.2,0.3,0.4,0.5,0.6,0.7,0.8,0.9,1,2,3,4,5,6,7,8,9,10,20],
            "labelExpr": "datum.value == 0.1 ? '0.1' : datum.value == 1 ? '1' : datum.value == 10 ? '10' : ''",
            "grid": true,
            "gridColor": {"condition": {"test": "datum.value == 1 || datum.value == 10", "value": "black"}, "value": "#c8c8c8"},
            "tickSize": {"condition": {"test": "datum.value == 0.1 || datum.value == 1 || datum.value == 10", "value": -14}, "value": -7},
            "labelPadding": 31,
            "title": "Ratio", "titleFont": "Liberation Serif", "titleFontSize": 36, "titleFontWeight": "normal",
            "titleX": -81, "titleY": 188, "titleAlign": "center", "titleBaseline": "middle"
          }},
        "detail": {"field": "s"}
      }
    },
    {
      "transform": [{"filter": "datum.s == 'mean'"}],
      "mark": {"type": "line", "color": "#808080", "strokeWidth": 3},
      "encoding": {
        "x": {"field": "p", "type": "quantitative", "axis": null},
        "y": {"field": "r", "type": "quantitative", "axis": null}
      }
    },
    {
      "transform": [{"filter": "datum.s == 'up' || datum.s == 'lo'"}],
      "mark": {"type": "line", "color": "#808080", "strokeWidth": 3, "strokeDash": [20, 6, 4, 6]},
      "encoding": {
        "x": {"field": "p", "type": "quantitative", "axis": null},
        "y": {"field": "r", "type": "quantitative", "axis": null},
        "detail": {"field": "s"}
      }
    },
    {
      "transform": [{"filter": "substring(datum.s, 0, 1) == 'k'"}],
      "mark": {"type": "line", "color": "black", "strokeWidth": 2.5},
      "encoding": {
        "x": {"field": "p", "type": "quantitative", "axis": null},
        "y": {"field": "r", "type": "quantitative", "axis": null},
        "detail": {"field": "s"}
      }
    },
    {
      "transform": [{"filter": "datum.s == 'blue'"}],
      "mark": {"type": "line", "color": "#0000ff", "strokeWidth": 3},
      "encoding": {
        "x": {"field": "p", "type": "quantitative", "axis": null},
        "y": {"field": "r", "type": "quantitative", "axis": null}
      }
    },
    {
      "transform": [{"filter": "datum.s == 'green'"}],
      "mark": {"type": "line", "color": "#00ff00", "strokeWidth": 3},
      "encoding": {
        "x": {"field": "p", "type": "quantitative", "axis": null},
        "y": {"field": "r", "type": "quantitative", "axis": null}
      }
    },
    {
      "transform": [{"filter": "datum.s == 'red'"}],
      "mark": {"type": "line", "color": "#ff0000", "strokeWidth": 3},
      "encoding": {
        "x": {"field": "p", "type": "quantitative", "axis": null},
        "y": {"field": "r", "type": "quantitative", "axis": null}
      }
    },
    {
      "data": {"values": [{"x1": 1.02, "x2": 10, "y1": 10.25, "y2": 20}]},
      "mark": {"type": "rect", "color": "white"},
      "encoding": {
        "x": {"field": "x1", "type": "quantitative", "scale": {"type": "log", "domain": [0.01, 10], "nice": false},
          "axis": {
            "orient": "top", "zindex": 1,
            "values": [0.01,0.02,0.03,0.04,0.05,0.06,0.07,0.08,0.09,0.1,0.2,0.3,0.4,0.5,0.6,0.7,0.8,0.9,1,2,3,4,5,6,7,8,9,10],
            "labels": false, "grid": false, "title": null,
            "tickSize": {"condition": {"test": "datum.value == 0.01 || datum.value == 0.1 || datum.value == 1 || datum.value == 10", "value": -14}, "value": -7}
          }},
        "x2": {"field": "x2"},
        "y": {"field": "y1", "type": "quantitative", "scale": {"type": "log", "domain": [0.1, 20], "nice": false},
          "axis": {
            "orient": "right", "zindex": 1,
            "values": [0.1,0.2,0.3,0.4,0.5,0.6,0.7,0.8,0.9,1,2,3,4,5,6,7,8,9,10,20],
            "labels": false, "grid": false, "title": null,
            "tickSize": {"condition": {"test": "datum.value == 0.1 || datum.value == 1 || datum.value == 10", "value": -14}, "value": -7}
          }},
        "y2": {"field": "y2"}
      }
    },
    {
      "data": {"values": [{"x": 3.03, "y": 14.1, "t": "※UD成分補正"}]},
      "mark": {"type": "text", "font": "Noto Sans CJK JP", "fontSize": 31, "color": "black", "align": "center", "baseline": "middle"},
      "encoding": {
        "x": {"field": "x", "type": "quantitative", "axis": null},
        "y": {"field": "y", "type": "quantitative", "axis": null},
        "text": {"field": "t"}
      }
    }
  ]
}
